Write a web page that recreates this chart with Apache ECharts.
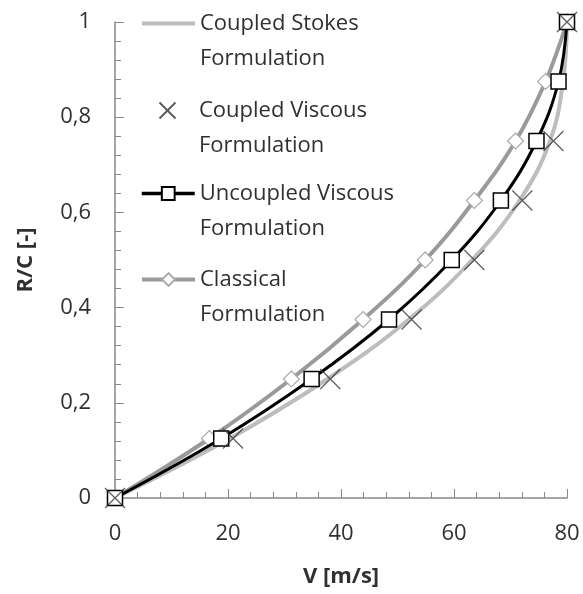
<!DOCTYPE html>
<html>
<head>
<meta charset="utf-8">
<script src="https://cdn.jsdelivr.net/npm/echarts@6/dist/echarts.min.js"></script>
<style>
    html, body { margin: 0; padding: 0; background: #fff; }
    #chart { width: 583px; height: 594px; }
</style>
</head>
<body>
<div id="chart"></div>
<script>
// R/C levels of the markers
var rcLevels = [0, 0.125, 0.25, 0.375, 0.5, 0.625, 0.75, 0.875, 1];
// V [m/s] of each formulation at those levels
var stokesV = [0, 20.3, 37.6, 52.0, 63.2, 71.6, 77.0, 79.3, 80];
var uncoupledV = [0, 18.8, 34.8, 48.5, 59.6, 68.3, 74.6, 78.5, 80];
var classicalV = [0, 16.7, 31.2, 43.9, 54.9, 63.6, 70.9, 76.2, 80];
// coupled viscous has one extra point near the top
var viscousRC = [0, 0.125, 0.25, 0.375, 0.5, 0.625, 0.75, 0.875, 0.9375, 1];
var viscousV = [0, 20.9, 38.1, 52.5, 63.6, 72.1, 77.6, 80.2, 80.2, 80];

var names = [
    'Coupled Stokes Formulation',
    'Coupled Viscous Formulation',
    'Uncoupled Viscous Formulation',
    'Classical Formulation'
];

var pairs = function(xs, ys) {
    return xs.map(function(x, i) { return [x, ys[i]]; });
};

var font = '"Open Sans", sans-serif';
var legendTops = [23, 110, 193, 279];
var legendLefts = [140, 157, 140, 140];
var legendLineWidths = [4, 0, 3.5, 4];

var myChart = echarts.init(document.getElementById('chart'));

var legends = names.map(function(name, i) {
    var lg = {
        data: [name],
        orient: 'vertical',
        left: legendLefts[i],
        top: legendTops[i] - 52,
        padding: 0,
        itemWidth: 53,
        itemHeight: 16,
        itemGap: 0,
        // blank first line so the icon sits level with the first text line
        formatter: function(n) {
            return '\n' + n.replace(' Formulation', '\nFormulation');
        },
        textStyle: {
            fontFamily: font,
            fontSize: 22,
            color: '#303030',
            lineHeight: 35
        }
    };
    if (legendLineWidths[i]) {
        lg.lineStyle = { width: legendLineWidths[i] };
    }
    // the Stokes curve has no marker, so hide the legend symbol
    if (i === 0) {
        lg.itemStyle = { opacity: 0 };
    }
    return lg;
});

var option = {
    animation: false,
    legend: legends,
    grid: {
        left: 115,
        right: 16,
        top: 22,
        bottom: 96
    },
    xAxis: {
        type: 'value',
        min: 0,
        max: 80,
        interval: 20,
        name: 'V [m/s]',
        nameLocation: 'middle',
        nameGap: 68,
        nameTextStyle: { fontFamily: font, fontSize: 22, fontWeight: 'bold', color: '#303030' },
        axisLine: { lineStyle: { color: '#888', width: 1.5 } },
        axisTick: { inside: true, length: 9, lineStyle: { color: '#888' } },
        minorTick: { show: true, splitNumber: 5, length: 6, lineStyle: { color: '#888' } },
        splitLine: { show: false },
        axisLabel: { fontFamily: font, fontSize: 22, color: '#303030', margin: 25 }
    },
    yAxis: {
        type: 'value',
        min: 0,
        max: 1,
        interval: 0.2,
        name: 'R/C [-]',
        nameLocation: 'middle',
        nameGap: 78,
        nameTextStyle: { fontFamily: font, fontSize: 22, fontWeight: 'bold', color: '#303030' },
        axisLine: { lineStyle: { color: '#888', width: 1.5 } },
        axisTick: { inside: true, length: 9, lineStyle: { color: '#888' } },
        minorTick: { show: true, splitNumber: 5, length: 6, lineStyle: { color: '#888' } },
        splitLine: { show: false },
        axisLabel: {
            fontFamily: font,
            fontSize: 22,
            color: '#303030',
            margin: 24,
            formatter: function(v) { return String(v).replace('.', ','); }
        }
    },
    series: [{
            name: names[0],
            type: 'line',
            smooth: 0.4,
            symbol: 'none',
            data: pairs(stokesV, rcLevels),
            lineStyle: { color: '#bdbdbd', width: 4 },
            itemStyle: { color: '#bdbdbd' },
            z: 1
        },
        {
            name: names[3],
            type: 'line',
            smooth: 0.4,
            symbol: 'diamond',
            symbolSize: 16,
            showAllSymbol: true,
            data: pairs(classicalV, rcLevels),
            lineStyle: { color: '#9a9a9a', width: 4 },
            itemStyle: { color: '#fff', borderColor: '#aaa', borderWidth: 1.2 },
            z: 2
        },
        {
            name: names[2],
            type: 'line',
            smooth: 0.4,
            symbol: 'rect',
            symbolSize: 15,
            showAllSymbol: true,
            data: pairs(uncoupledV, rcLevels),
            lineStyle: { color: '#000', width: 3 },
            itemStyle: { color: '#fff', borderColor: '#000', borderWidth: 1.5 },
            z: 3
        },
        {
            name: names[1],
            type: 'scatter',
            symbol: 'path://M0,0L10,10M10,0L0,10',
            symbolSize: 20,
            data: pairs(viscousV, viscousRC),
            itemStyle: { color: 'none', borderColor: '#333', borderWidth: 1.2 },
            z: 4
        }
    ]
};

myChart.setOption(option);
</script>
</body>
</html>
